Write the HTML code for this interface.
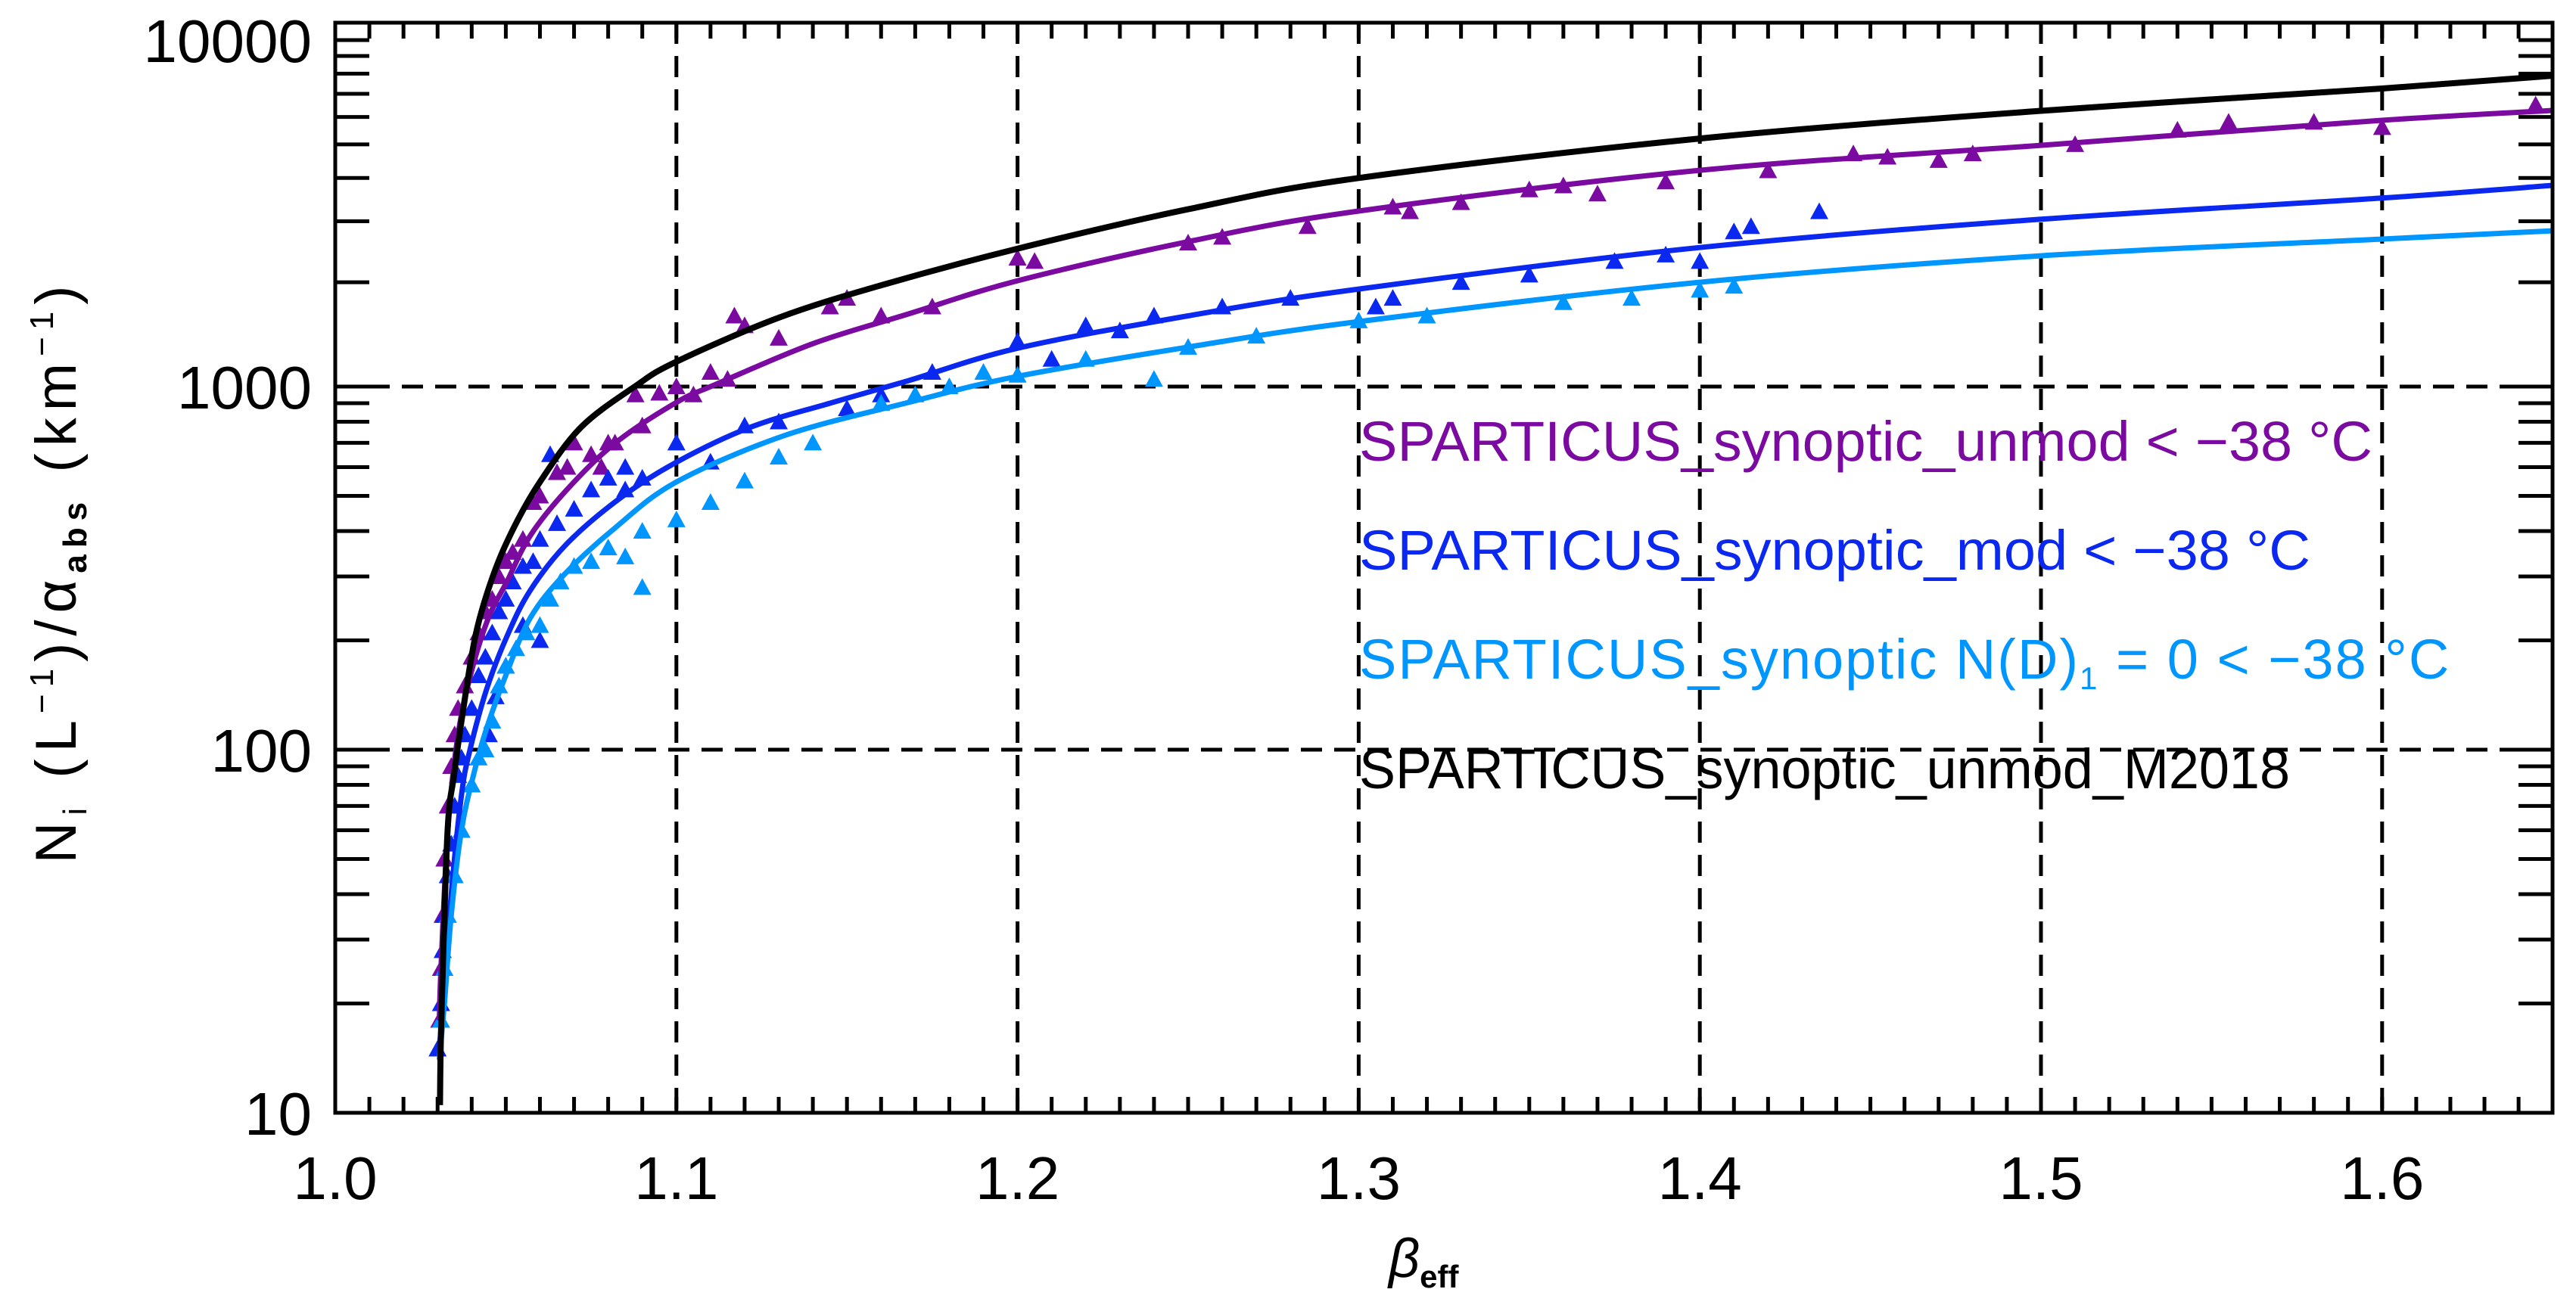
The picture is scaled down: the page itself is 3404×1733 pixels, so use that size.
<!DOCTYPE html>
<html><head><meta charset="utf-8"><style>
html,body{margin:0;padding:0;background:#fff;}
svg{display:block;font-family:"Liberation Sans",sans-serif;}
</style></head><body>
<svg id="chart" width="3404" height="1733" viewBox="0 0 3404 1733" xmlns="http://www.w3.org/2000/svg">
<rect width="3404" height="1733" fill="#fff"/>
<defs><clipPath id="plotclip"><rect x="443" y="30" width="2930" height="1441"/></clipPath></defs>
<g id="grid"></g>
<g id="marks" clip-path="url(#plotclip)"></g>
<g id="axes"></g>
<g font-size="74">
<text x="1796" y="609" fill="#7a0aa0" textLength="1339" lengthAdjust="spacingAndGlyphs">SPARTICUS_synoptic_unmod &lt; −38 °C</text>
<text x="1796" y="753" fill="#0a28f0" textLength="1257" lengthAdjust="spacingAndGlyphs">SPARTICUS_synoptic_mod &lt; −38 °C</text>
<text x="1796" y="897" fill="#0096ff" letter-spacing="2">SPARTICUS_synoptic N(D)<tspan font-size="42" dy="14">1</tspan><tspan dy="-14">  =  0  &lt;  −38  °C</tspan></text>
<text x="1796" y="1042" fill="#000" textLength="1230" lengthAdjust="spacingAndGlyphs">SPARTICUS_synoptic_unmod_M2018</text>
</g>
<text x="1835" y="1688" font-size="72" font-style="italic">β<tspan font-size="42" font-weight="bold" font-style="normal" dy="14">eff</tspan></text>
<text transform="translate(100,755) rotate(-90)" text-anchor="middle" font-size="76" letter-spacing="9">N<tspan font-size="44" dy="14">i</tspan><tspan dy="-14"> (L</tspan><tspan font-size="44" dy="-30">−1</tspan><tspan dy="30">)/α</tspan><tspan font-size="44" font-weight="bold" dy="14">abs</tspan><tspan dy="-14"> (km</tspan><tspan font-size="44" dy="-30">−1</tspan><tspan dy="30">)</tspan></text>
</svg>
<script>
const xTicks=[1.0,1.1,1.2,1.3,1.4,1.5,1.6];
const xTickLabels=["1.0","1.1","1.2","1.3","1.4","1.5","1.6"];
const yTicks=[10,100,1000,10000];
const yTickLabels=["10","100","1000","10000"];
const blackX=[1.0307,1.0311,1.0329,1.0348,1.0375,1.0413,1.0464,1.0523,1.060,1.072,1.0878,1.1,1.13,1.16,1.2,1.25,1.3,1.4,1.5,1.6,1.65];
const blackY=[10.5,18,59,85,129,210,304,408,546,772,1000,1180,1580,1960,2500,3250,4000,5200,6250,7250,7890];
const purpleX=[1.0305,1.031,1.033,1.036,1.040,1.045,1.0503,1.0572,1.068,1.082,1.1,1.1116,1.14,1.168,1.2,1.25,1.3,1.4,1.5,1.6,1.65];
const purpleY=[18,25,60,110,165,232,290,389,521,698,904,1015,1330,1620,2020,2620,3210,4210,4970,5870,6265];
const blueX=[1.0305,1.032,1.034,1.037,1.0395,1.0443,1.0503,1.0572,1.068,1.0839,1.1,1.1216,1.145,1.168,1.2,1.25,1.3,1.4,1.5,1.6,1.65];
const blueY=[15,22,40,75,100,146,205,275,370,496,619,772,900,1040,1290,1600,1912,2520,3040,3500,3808];
const cyanX=[1.0305,1.032,1.034,1.037,1.0405,1.0443,1.0503,1.0572,1.0672,1.082,1.1,1.1315,1.168,1.2,1.25,1.3,1.4,1.5,1.6,1.65];
const cyanY=[14,20,35,60,85,114,163,231,304,408,546,732,904,1070,1300,1540,2000,2385,2665,2815];
const purplePtsX=[1.0305,1.031,1.0315,1.032,1.033,1.034,1.035,1.036,1.038,1.04,1.042,1.044,1.046,1.048,1.05,1.052,1.055,1.058,1.06,1.065,1.068,1.07,1.075,1.078,1.08,1.082,1.088,1.09,1.095,1.1,1.105,1.11,1.115,1.117,1.12,1.13,1.145,1.15,1.16,1.175,1.2,1.205,1.25,1.26,1.285,1.31,1.315,1.33,1.35,1.36,1.37,1.39,1.42,1.445,1.455,1.47,1.48,1.51,1.54,1.555,1.58,1.6,1.645];
const purplePtsY=[18,25,35,50,70,90,110,130,150,180,210,240,260,300,330,350,380,480,500,580,600,700,650,600,700,700,950,780,960,1000,950,1100,1050,1600,1500,1380,1700,1800,1600,1700,2350,2300,2600,2700,2900,3300,3200,3400,3700,3800,3600,3900,4200,4700,4600,4500,4700,5000,5500,5800,5800,5600,6500];
const bluePtsX=[1.03,1.031,1.0315,1.032,1.033,1.034,1.035,1.036,1.037,1.038,1.04,1.042,1.044,1.045,1.046,1.047,1.048,1.05,1.05,1.052,1.055,1.055,1.058,1.06,1.06,1.063,1.065,1.07,1.075,1.08,1.085,1.085,1.09,1.1,1.11,1.12,1.13,1.15,1.16,1.175,1.2,1.21,1.22,1.23,1.24,1.26,1.28,1.305,1.31,1.33,1.35,1.375,1.39,1.4,1.41,1.415,1.435];
const bluePtsY=[15,20,28,35,45,55,70,85,95,110,130,160,180,110,210,140,240,260,170,290,320,220,330,380,200,650,420,460,520,560,600,520,560,700,620,780,800,870,950,1100,1350,1200,1500,1450,1600,1700,1800,1700,1800,2000,2100,2300,2400,2300,2800,2900,3200];
const cyanPtsX=[1.031,1.032,1.033,1.035,1.037,1.04,1.042,1.044,1.046,1.048,1.05,1.053,1.056,1.06,1.063,1.066,1.07,1.075,1.08,1.085,1.09,1.09,1.1,1.11,1.12,1.13,1.14,1.16,1.17,1.18,1.19,1.2,1.22,1.24,1.25,1.27,1.3,1.32,1.36,1.38,1.4,1.41];
const cyanPtsY=[18,25,35,45,60,80,95,100,120,150,170,190,210,220,260,290,320,330,360,340,400,280,430,480,550,640,700,900,950,1000,1100,1080,1200,1050,1300,1400,1550,1600,1750,1800,1900,1950];

const NS="http://www.w3.org/2000/svg";
function xs(b){return 443+(b-1)*4508;}
function ys(v){const L=Math.log10(v);return L>=3?511-(L-3)*458:511+(3-L)*480;}
function mk(tag,attrs,parent){const e=document.createElementNS(NS,tag);for(const k in attrs)e.setAttribute(k,attrs[k]);parent.appendChild(e);return e;}
const grid=document.getElementById('grid'),marks=document.getElementById('marks'),axes=document.getElementById('axes');
const T=30,B=1471,Lx=443,R=3373;
xTicks.forEach(t=>{if(t<=1.0)return;const g=mk('line',{x1:xs(t),x2:xs(t),y1:T,y2:B,stroke:'#000','stroke-width':5,'stroke-dasharray':'28 16'},grid);

});
yTicks.forEach(t=>{if(t<=10||t>=10000)return;const g=mk('line',{x1:Lx,x2:R,y1:ys(t),y2:ys(t),stroke:'#000','stroke-width':5,'stroke-dasharray':'28 16'},grid);

});
function curve(X,Y,color,w,name){
const P=X.map((b,i)=>[xs(b),ys(Y[i])]);
let d='M'+P[0][0].toFixed(1)+','+P[0][1].toFixed(1);
for(let i=0;i<P.length-1;i++){const p0=P[Math.max(0,i-1)],p1=P[i],p2=P[i+1],p3=P[Math.min(P.length-1,i+2)];
const c1=[p1[0]+(p2[0]-p0[0])/6,p1[1]+(p2[1]-p0[1])/6],c2=[p2[0]-(p3[0]-p1[0])/6,p2[1]-(p3[1]-p1[1])/6];
d+=`C${c1[0].toFixed(1)},${c1[1].toFixed(1)} ${c2[0].toFixed(1)},${c2[1].toFixed(1)} ${p2[0].toFixed(1)},${p2[1].toFixed(1)}`;}
const p=mk('path',{d:d,fill:'none',stroke:color,'stroke-width':w,'stroke-linejoin':'round'},marks);

}
function pts(X,Y,color,name){X.forEach((b,i)=>{const cx=xs(b),cy=ys(Y[i]);
const p=mk('polygon',{points:`${cx-12},${cy+10} ${cx+12},${cy+10} ${cx},${cy-12}`,fill:color},marks);

});}
pts(purplePtsX,purplePtsY,'#7a0aa0','point-unmod');
pts(bluePtsX,bluePtsY,'#0a28f0','point-mod');
pts(cyanPtsX,cyanPtsY,'#0096ff','point-nd1');
curve(purpleX,purpleY,'#7a0aa0',7,'line-unmod');
curve(blueX,blueY,'#0a28f0',7,'line-mod');
curve(cyanX,cyanY,'#0096ff',7,'line-nd1');
curve(blackX,blackY,'#000',8,'line-m2018');
const fr=mk('rect',{x:Lx,y:T,width:R-Lx,height:B-T,fill:'none',stroke:'#000','stroke-width':5},axes);


for(let k=1;k<65;k++){const b=1+k*0.01,x=xs(b);
const t1=mk('line',{x1:x,x2:x,y1:B,y2:B-21,stroke:'#000','stroke-width':5},axes);


const t2=mk('line',{x1:x,x2:x,y1:T,y2:T+21,stroke:'#000','stroke-width':5},axes);

}
xTicks.forEach((t,i)=>{const tx=mk('text',{x:xs(t),y:1585,'font-size':80,'text-anchor':'middle'},axes);tx.textContent=xTickLabels[i];

});
[10,100,1000].forEach(dec=>{for(let m=1;m<=10;m++){const v=dec*m;if(v>10000)continue;const y=ys(v);
if(m===1&&dec===10)continue;
const a=mk('line',{x1:Lx,x2:Lx+45,y1:y,y2:y,stroke:'#000','stroke-width':5},axes);


const b2=mk('line',{x1:R,x2:R-45,y1:y,y2:y,stroke:'#000','stroke-width':5},axes);

}});
yTicks.forEach((t,i)=>{const tx=mk('text',{x:412,y:ys(t)+29,'font-size':80,'text-anchor':'end'},axes);tx.textContent=yTickLabels[i];

});
</script>
</body></html>
